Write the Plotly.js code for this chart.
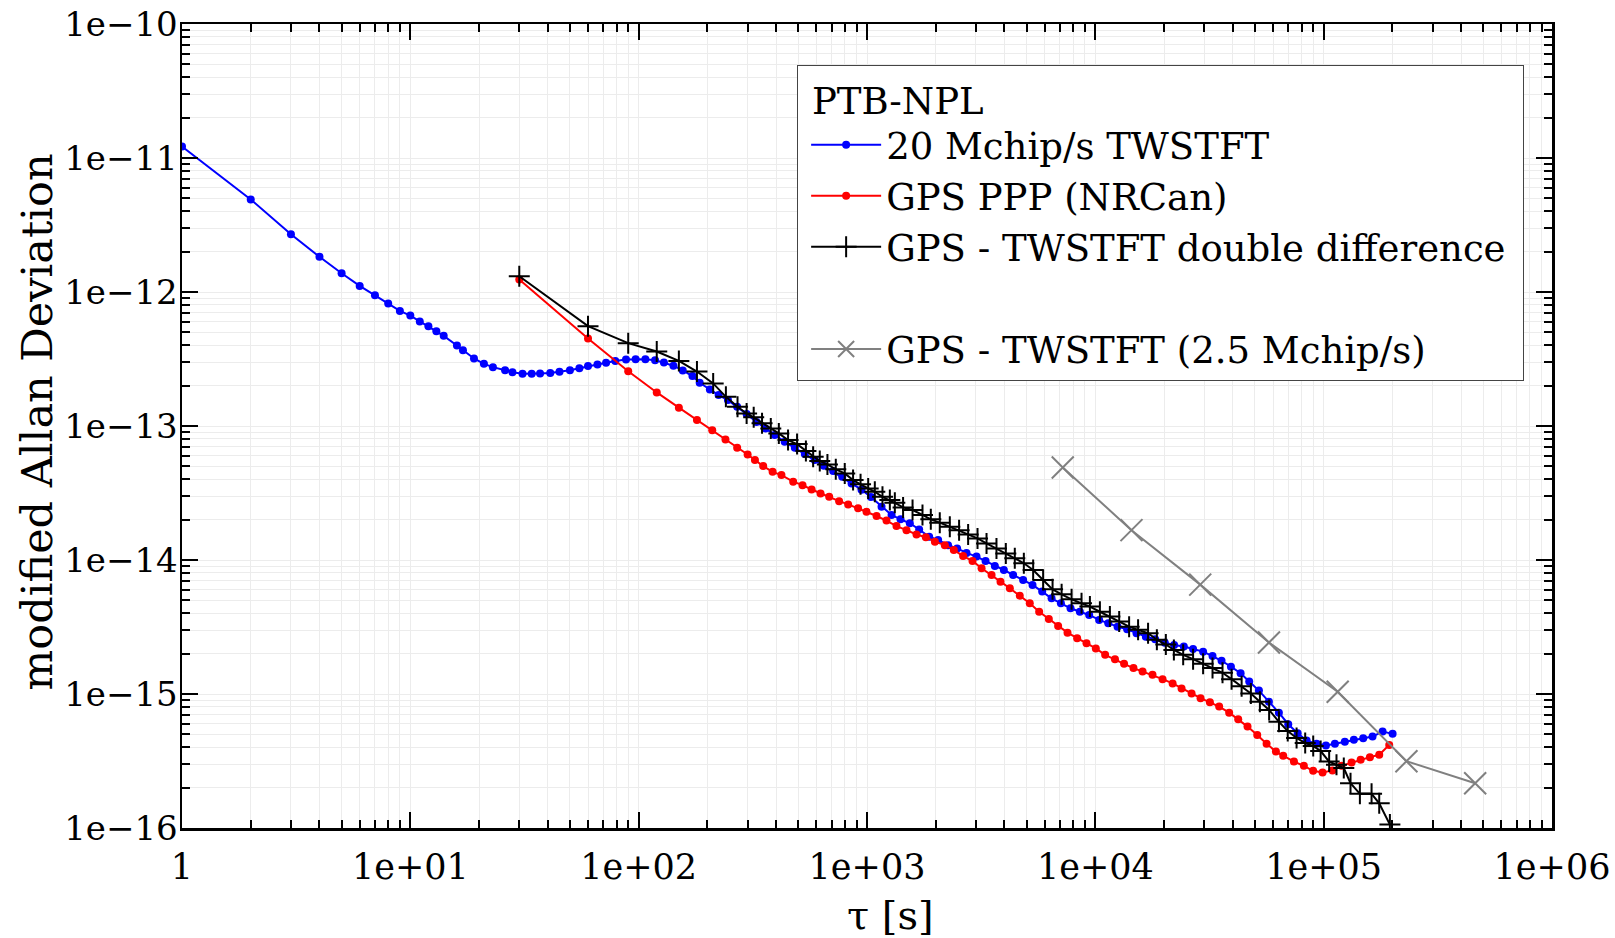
<!DOCTYPE html>
<html>
<head>
<meta charset="utf-8">
<script src="https://cdn.plot.ly/plotly-3.0.1.min.js"></script>
<style>html,body{margin:0;padding:0;background:#fff;}#chart{width:1615px;height:938px;}</style>
</head>
<body>
<div id="chart"></div>
<script>
// ---- data ----
const blueName = "20 Mchip/s TWSTFT";
const blueTau = [1,2,3,4,5,6,7,8,9,10,11,12,13,14,16,17,19,21,23,26,28,31,34,37,41,45,50,55,60,66,72,79,88,97,107,118,129,142,156,172,185,205,224,246,270,297,328,359,394,436,483,534,590,647,711,779,856,946,1040,1158,1281,1402,1540,1692,1872,2049,2265,2482,2728,3017,3306,3630,3975,4365,4828,5308,5851,6432,7066,7787,8556,9399,10390,11390,12510,13780,15150,16640,18280,20150,22140,24410,26800,29650,32600,35710,39250,43270,47200,52050,57550,63660,69960,76930,84200,93100,102300,112000,123800,135600,149000,163700,181100,200400];
const blueDev = [1.22e-11,4.91e-12,2.70e-12,1.83e-12,1.38e-12,1.11e-12,9.44e-13,8.19e-13,7.22e-13,6.67e-13,6.03e-13,5.56e-13,5.10e-13,4.71e-13,3.99e-13,3.68e-13,3.19e-13,2.91e-13,2.75e-13,2.61e-13,2.52e-13,2.45e-13,2.45e-13,2.47e-13,2.49e-13,2.54e-13,2.61e-13,2.70e-13,2.80e-13,2.88e-13,2.96e-13,3.06e-13,3.13e-13,3.15e-13,3.15e-13,3.10e-13,2.98e-13,2.82e-13,2.60e-13,2.36e-13,2.10e-13,1.87e-13,1.70e-13,1.56e-13,1.39e-13,1.23e-13,1.07e-13,9.6e-14,8.55e-14,7.62e-14,6.87e-14,6.17e-14,5.57e-14,5.05e-14,4.61e-14,4.18e-14,3.73e-14,3.35e-14,2.95e-14,2.50e-14,2.17e-14,2.01e-14,1.88e-14,1.69e-14,1.49e-14,1.41e-14,1.29e-14,1.22e-14,1.13e-14,1.06e-14,9.84e-15,9.02e-15,8.42e-15,7.73e-15,7.09e-15,6.52e-15,5.81e-15,5.18e-15,4.75e-15,4.36e-15,4.11e-15,3.89e-15,3.57e-15,3.37e-15,3.18e-15,3.04e-15,2.84e-15,2.68e-15,2.56e-15,2.41e-15,2.32e-15,2.26e-15,2.17e-15,2.07e-15,1.92e-15,1.77e-15,1.60e-15,1.43e-15,1.24e-15,1.06e-15,8.77e-16,7.26e-16,5.95e-16,5.10e-16,4.49e-16,4.25e-16,4.12e-16,4.25e-16,4.41e-16,4.55e-16,4.68e-16,4.81e-16,5.25e-16,5.04e-16];

const redName = "GPS PPP (NRCan)";
const redTau = [30,60,90,120,150,180,210,240,270,300,323,351,386,422,475,522,572,626,683,755,827,914,995,1101,1217,1346,1489,1647,1810,1983,2192,2400,2636,2898,3175,3512,3843,4222,4667,5162,5675,6257,6871,7553,8325,9148,10050,11040,12190,13360,14690,16100,17800,19700,21800,23860,26400,28900,31750,34860,38560,42240,46400,51170,56230,61780,66500,74100,81900,89900,98900,109300,119800,132500,145200,159400,175100,193700];
const redDev = [1.24e-12,4.50e-13,2.56e-13,1.78e-13,1.37e-13,1.11e-13,9.3e-14,7.94e-14,6.87e-14,6.13e-14,5.57e-14,5.02e-14,4.55e-14,4.30e-14,3.84e-14,3.62e-14,3.36e-14,3.14e-14,2.96e-14,2.75e-14,2.60e-14,2.43e-14,2.29e-14,2.13e-14,1.97e-14,1.79e-14,1.67e-14,1.55e-14,1.48e-14,1.37e-14,1.29e-14,1.19e-14,1.07e-14,9.84e-15,8.67e-15,7.73e-15,6.89e-15,6.15e-15,5.42e-15,4.75e-15,4.11e-15,3.63e-15,3.22e-15,2.87e-15,2.61e-15,2.39e-15,2.19e-15,1.96e-15,1.82e-15,1.68e-15,1.56e-15,1.47e-15,1.39e-15,1.29e-15,1.20e-15,1.10e-15,1.01e-15,9.3e-16,8.69e-16,8.05e-16,7.26e-16,6.48e-16,5.71e-16,4.95e-16,4.25e-16,3.72e-16,3.46e-16,3.13e-16,2.91e-16,2.67e-16,2.60e-16,2.69e-16,2.91e-16,3.08e-16,3.23e-16,3.38e-16,3.52e-16,4.17e-16];

const blackName = "GPS - TWSTFT double difference";
const blackTau = [30,60,90,120,150,180,212,241,271,297,319,347,379,411,451,494,540,581,621,671,730,799,869,937,1012,1082,1169,1259,1324,1439,1583,1750,1903,2083,2305,2531,2773,3048,3338,3690,4055,4439,4863,5342,5907,6497,7118,7870,8701,9467,10470,11580,12720,14060,15390,17020,18600,20360,22080,24250,26800,29650,32600,36060,39510,43720,48000,52570,57700,63700,69600,76100,83000,90000,97000,105700,113800,122500,131100,144100,162100,175100,195000];
const blackDev = [1.31e-12,5.56e-13,4.15e-13,3.60e-13,3.06e-13,2.55e-13,2.08e-13,1.65e-13,1.39e-13,1.24e-13,1.16e-13,1.05e-13,9.6e-14,8.8e-14,7.85e-14,7.33e-14,6.5e-14,5.89e-14,5.47e-14,5.17e-14,4.75e-14,4.43e-14,3.95e-14,3.67e-14,3.42e-14,3.23e-14,2.96e-14,2.80e-14,2.67e-14,2.47e-14,2.36e-14,2.17e-14,2.01e-14,1.90e-14,1.77e-14,1.67e-14,1.55e-14,1.45e-14,1.33e-14,1.22e-14,1.12e-14,1.03e-14,9.45e-15,8.42e-15,7.09e-15,6.04e-15,5.54e-15,5.09e-15,4.75e-15,4.49e-15,4.11e-15,3.78e-15,3.47e-15,3.18e-15,3.01e-15,2.84e-15,2.54e-15,2.34e-15,2.13e-15,1.96e-15,1.82e-15,1.68e-15,1.56e-15,1.44e-15,1.29e-15,1.14e-15,1.01e-15,8.77e-16,7.60e-16,6.2e-16,5.3e-16,4.7e-16,4.3e-16,4.1e-16,3.75e-16,3.13e-16,2.96e-16,2.80e-16,2.16e-16,1.80e-16,1.80e-16,1.53e-16,1.06e-16];

const grayName = "GPS - TWSTFT (2.5 Mchip/s)";
const grayTau = [7200,14400,28800,57600,115200,230400,460800];
const grayDev = [4.9e-14,1.67e-14,6.55e-15,2.42e-15,1.04e-15,3.15e-16,2.16e-16];

const legendTitle = "PTB-NPL";
const xTitle = "τ [s]";
const yTitle = "modified Allan Deviation";
const xTickVals = [1,1e1,1e2,1e3,1e4,1e5,1e6];
const xTickText = ["1","1e+01","1e+02","1e+03","1e+04","1e+05","1e+06"];
const yTickVals = [1e-16,1e-15,1e-14,1e-13,1e-12,1e-11,1e-10];
const yTickText = ["1e\u221216","1e\u221215","1e\u221214","1e\u221213","1e\u221212","1e\u221211","1e\u221210"];

// ---- minor tick positions (2..9 in each decade) ----
function minorVals(e0, e1){
  const out = [];
  for (let e = e0; e < e1; e++) for (let d = 2; d <= 9; d++) out.push(d * Math.pow(10, e));
  return out;
}

const FONT = "DejaVu Serif";
const GRID = "#ececec";

const traces = [
  {x: blueTau, y: blueDev, name: blueName, type: "scatter", mode: "lines+markers",
   line: {color: "#0000ff", width: 2}, marker: {color: "#0000ff", size: 8, symbol: "circle"}},
  {x: redTau, y: redDev, name: redName, type: "scatter", mode: "lines+markers",
   line: {color: "#ff0000", width: 2}, marker: {color: "#ff0000", size: 8, symbol: "circle"}},
  {x: blackTau, y: blackDev, name: blackName + "\u00a0", type: "scatter", mode: "lines+markers",
   line: {color: "#000000", width: 2}, marker: {color: "#000000", size: 15, symbol: "cross-thin-open", line: {color: "#000000", width: 2}}},
  {x: [null], y: [null], name: " ", type: "scatter", mode: "lines",
   line: {color: "rgba(0,0,0,0)", width: 0}, hoverinfo: "skip"},
  {x: grayTau, y: grayDev, name: grayName, type: "scatter", mode: "lines+markers",
   line: {color: "#808080", width: 2}, marker: {color: "#808080", size: 22, symbol: "x-thin-open", line: {color: "#808080", width: 2}}}
];

function axisBase(){
  return {
    type: "log", showline: true, linewidth: 2.5, linecolor: "#000", mirror: "allticks",
    ticks: "inside", ticklen: 16, tickwidth: 2, tickcolor: "#000",
    showgrid: true, gridcolor: GRID, gridwidth: 1, zeroline: false,
    tickmode: "array"
  };
}

const xaxis = Object.assign(axisBase(), {
  range: [0, 6], tickvals: xTickVals, ticktext: xTickText, ticklabelstandoff: 6,
  tickfont: {family: FONT, size: 35, color: "#000"},
  minor: {tickmode: "array", tickvals: minorVals(0, 6), ticks: "inside", ticklen: 8, tickwidth: 2, tickcolor: "#000", showgrid: true, gridcolor: GRID, gridwidth: 1}
});
const yaxis = Object.assign(axisBase(), {
  range: [-16, -10], tickvals: yTickVals, ticktext: yTickText, ticklabelstandoff: -5,
  tickfont: {family: FONT, size: 34, color: "#000"},
  minor: {tickmode: "array", tickvals: minorVals(-16, -10), ticks: "inside", ticklen: 8, tickwidth: 2, tickcolor: "#000", showgrid: true, gridcolor: GRID, gridwidth: 1}
});

const layout = {
  width: 1615, height: 938,
  margin: {l: 182, r: 63, t: 24, b: 110},
  paper_bgcolor: "#fff", plot_bgcolor: "#fff",
  font: {family: FONT, color: "#000"},
  xaxis: xaxis, yaxis: yaxis,
  showlegend: true,
  legend: {
    x: 0.449, y: 0.949, xanchor: "left", yanchor: "top",
    bgcolor: "#fff", bordercolor: "#444", borderwidth: 1,
    font: {family: FONT, size: 37, color: "#000"},
    title: {text: "\u00a0" + legendTitle, font: {family: FONT, size: 37, color: "#000"}},
    itemwidth: 70, indentation: 8, tracegroupgap: 0
  },
  annotations: [
    {text: xTitle, xref: "paper", yref: "paper", x: 0.5175, y: -0.108, xanchor: "center", yanchor: "middle",
     showarrow: false, font: {family: FONT, size: 40, color: "#000"}},
    {text: yTitle, xref: "paper", yref: "paper", x: -0.1055, y: 0.505, xanchor: "center", yanchor: "middle",
     textangle: -90, showarrow: false, font: {family: FONT, size: 43, color: "#000"}}
  ]
};

Plotly.newPlot("chart", traces, layout, {displayModeBar: false, staticPlot: true});
</script>
</body>
</html>
